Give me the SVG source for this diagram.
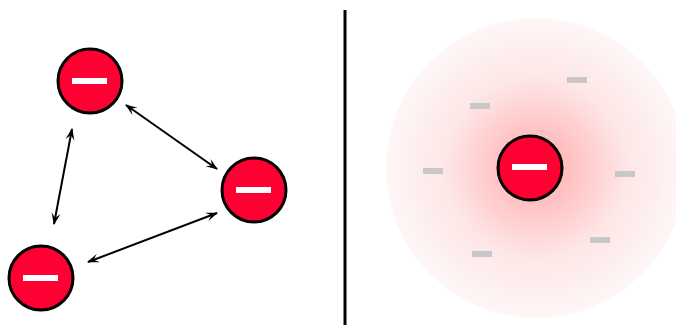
<svg xmlns="http://www.w3.org/2000/svg" width="676" height="325" viewBox="0 0 676 325">
<style>
.ion{fill:#ff0033;stroke:#000;stroke-width:3}
.bar{fill:#fff}
.dash{fill:#c8c8c8}
.conn{stroke:#000;stroke-width:2;fill:none;marker-start:url(#ah);marker-end:url(#ah)}
</style>
<defs>
<marker id="ah" viewBox="0 0 12 10" refX="11" refY="5" markerWidth="12" markerHeight="10" markerUnits="userSpaceOnUse" orient="auto-start-reverse">
<path d="M0,0.5 L12,5 L0,9.5 L5,5 Z" fill="#000"/>
</marker>
<radialGradient id="glow" cx="0.5" cy="0.5" r="0.5">
<stop offset="0" stop-color="#ffa8a8"/>
<stop offset="0.3" stop-color="#ffc8c8"/>
<stop offset="0.6" stop-color="#fee6e6"/>
<stop offset="1" stop-color="#fef7f7"/>
</radialGradient>
</defs>
<line x1="345" y1="10" x2="345" y2="325" stroke="#000" stroke-width="3"/>
<g id="connectors">
<line class="conn" x1="126" y1="105" x2="217" y2="169"/>
<line class="conn" x1="72" y1="129" x2="54" y2="224"/>
<line class="conn" x1="217" y1="213" x2="88" y2="262"/>
</g>
<g id="ion1"><circle class="ion" cx="90" cy="81" r="32"/><rect class="bar" x="72" y="78" width="35" height="6"/></g>
<g id="ion2"><circle class="ion" cx="254" cy="190" r="32"/><rect class="bar" x="236" y="187" width="35" height="6"/></g>
<g id="ion3"><circle class="ion" cx="41" cy="278" r="32"/><rect class="bar" x="23" y="275" width="35" height="6"/></g>
<g id="cloud">
<circle cx="536" cy="168" r="150" fill="url(#glow)"/>
<rect class="dash" x="470" y="103" width="20" height="6"/>
<rect class="dash" x="567" y="77" width="20" height="6"/>
<rect class="dash" x="423" y="168" width="20" height="6"/>
<rect class="dash" x="615" y="171" width="20" height="6"/>
<rect class="dash" x="590" y="237" width="20" height="6"/>
<rect class="dash" x="472" y="251" width="20" height="6"/>
</g>
<g id="ion4"><circle class="ion" cx="530" cy="168" r="32"/><rect class="bar" x="512" y="164" width="35" height="6"/></g>
</svg>
